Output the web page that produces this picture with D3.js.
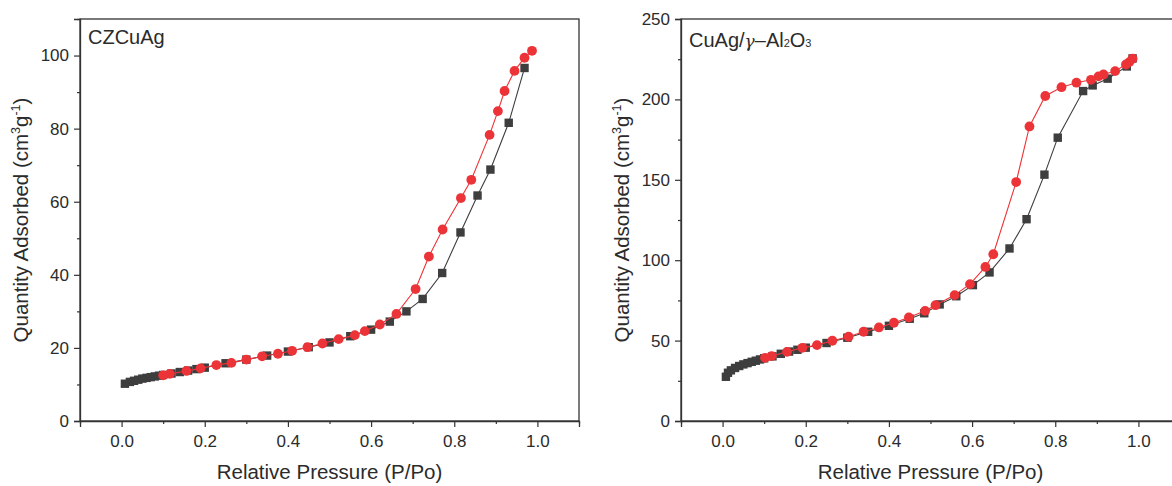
<!DOCTYPE html>
<html>
<head>
<meta charset="utf-8">
<script src="https://cdn.jsdelivr.net/npm/d3@7"></script>
<style>
  html, body { margin: 0; padding: 0; background: #fff; }
  svg { display: block; }
  text { font-family: "Liberation Sans", Arial, sans-serif; fill: #2b2b2b; }
</style>
</head>
<body>
<svg id="chart" width="1172" height="486"></svg>
<script>
// N2 isotherm data: relative pressure (P/Po) and quantity adsorbed (cm3/g)

// CZCuAg – adsorption branch
const czAdsP = [0.008, 0.02, 0.03, 0.04, 0.05, 0.06, 0.07, 0.08, 0.09, 0.10, 0.12, 0.14, 0.16, 0.18, 0.20, 0.25, 0.30, 0.35, 0.40, 0.45, 0.50, 0.55, 0.60, 0.645, 0.685, 0.724, 0.771, 0.815, 0.856, 0.887, 0.931, 0.969];
const czAdsQ = [10.2, 10.7, 11.0, 11.3, 11.6, 11.8, 12.0, 12.2, 12.4, 12.6, 13.0, 13.4, 13.8, 14.2, 14.6, 15.8, 16.8, 17.9, 19.0, 20.2, 21.5, 23.2, 25.0, 27.2, 30.0, 33.4, 40.5, 51.6, 61.7, 68.8, 81.6, 96.6];
// CZCuAg – desorption branch
const czDesP = [0.987, 0.969, 0.945, 0.921, 0.905, 0.885, 0.841, 0.816, 0.772, 0.739, 0.707, 0.661, 0.621, 0.585, 0.561, 0.522, 0.483, 0.447, 0.410, 0.376, 0.338, 0.300, 0.264, 0.228, 0.190, 0.156, 0.116, 0.100];
const czDesQ = [101.3, 99.4, 95.8, 90.3, 84.8, 78.3, 66.0, 61.0, 52.4, 45.0, 36.1, 29.3, 26.4, 24.6, 23.5, 22.4, 21.2, 20.2, 19.2, 18.4, 17.7, 16.8, 15.9, 15.3, 14.4, 13.7, 12.9, 12.5];

// CuAg/γ-Al2O3 – adsorption branch
const alAdsP = [0.008, 0.013, 0.02, 0.03, 0.04, 0.05, 0.06, 0.07, 0.08, 0.09, 0.10, 0.12, 0.14, 0.16, 0.18, 0.20, 0.25, 0.30, 0.35, 0.40, 0.45, 0.485, 0.522, 0.562, 0.602, 0.642, 0.690, 0.731, 0.774, 0.806, 0.867, 0.890, 0.926, 0.972, 0.986];
const alAdsQ = [27.5, 30.0, 31.5, 33.0, 34.2, 35.2, 36.0, 36.8, 37.5, 38.3, 39.0, 40.2, 41.8, 43.2, 44.3, 45.6, 48.5, 51.8, 55.5, 59.2, 63.6, 67.0, 72.5, 77.6, 84.5, 92.4, 107.3, 125.5, 153.2, 176.2, 205.2, 208.7, 212.9, 220.5, 225.5];
// CuAg/γ-Al2O3 – desorption branch
const alDesP = [0.986, 0.978, 0.970, 0.944, 0.916, 0.904, 0.886, 0.851, 0.815, 0.776, 0.738, 0.706, 0.651, 0.632, 0.595, 0.558, 0.512, 0.487, 0.448, 0.412, 0.376, 0.339, 0.303, 0.264, 0.227, 0.192, 0.155, 0.118, 0.102];
const alDesQ = [225.3, 223.2, 221.7, 217.6, 215.5, 214.3, 212.2, 210.4, 207.6, 202.1, 183.2, 148.6, 103.7, 95.8, 85.1, 78.3, 72.0, 68.5, 64.4, 61.1, 58.2, 55.5, 52.4, 49.9, 47.2, 45.5, 43.0, 40.4, 39.3];

// Axis ticks
const xTicks = [0.0, 0.2, 0.4, 0.6, 0.8, 1.0];
const xMinorTicks = [-0.1, 0.1, 0.3, 0.5, 0.7, 0.9, 1.1];
const czYTicks = [0, 20, 40, 60, 80, 100];
const czYMinorTicks = [10, 30, 50, 70, 90, 110];
const alYTicks = [0, 50, 100, 150, 200, 250];
const alYMinorTicks = [25, 75, 125, 175, 225];

const svg = d3.select("#chart");
const AXIS_COLOR = "#333";
const BLACK = "#3e3e3e";
const RED = "#ec3338";

function drawPanel(opt) {
  const g = svg.append("g");
  const x = d3.scaleLinear().domain([-0.1, 1.1]).range([opt.left, opt.left + 499]);
  const y = d3.scaleLinear().domain(opt.yDomain).range([421, 19]);

  // frame (top and right sides)
  g.append("rect")
    .attr("x", x(-0.1)).attr("y", y(opt.yDomain[1]))
    .attr("width", x(1.1) - x(-0.1)).attr("height", y(opt.yDomain[0]) - y(opt.yDomain[1]))
    .attr("fill", "none").attr("stroke", AXIS_COLOR).attr("stroke-width", 1.3);

  // x axis
  const xAxis = g.append("g").attr("transform", `translate(0,${y(opt.yDomain[0])})`)
    .call(d3.axisBottom(x).tickValues(xTicks).tickFormat(d3.format(".1f")).tickSize(6).tickPadding(8));
  g.append("g").attr("transform", `translate(0,${y(opt.yDomain[0])})`)
    .call(d3.axisBottom(x).tickValues(xMinorTicks).tickFormat("").tickSize(3))
    .call(a => a.select(".domain").remove());

  // y axis
  const yAxis = g.append("g").attr("transform", `translate(${x(-0.1)},0)`)
    .call(d3.axisLeft(y).tickValues(opt.yTicks).tickFormat(d3.format("d")).tickSize(6).tickPadding(5));
  g.append("g").attr("transform", `translate(${x(-0.1)},0)`)
    .call(d3.axisLeft(y).tickValues(opt.yMinor).tickFormat("").tickSize(3))
    .call(a => a.select(".domain").remove());

  g.selectAll(".domain").attr("stroke", AXIS_COLOR).attr("stroke-width", 1.3);
  g.selectAll(".tick line").attr("stroke", AXIS_COLOR).attr("stroke-width", 1.2);
  g.selectAll(".tick text").attr("font-size", 17).attr("fill", "#2b2b2b")
    .attr("font-family", '"Liberation Sans", Arial, sans-serif');

  // axis titles
  g.append("text")
    .attr("x", (x(-0.1) + x(1.1)) / 2).attr("y", 479)
    .attr("text-anchor", "middle").attr("font-size", 20.5)
    .text("Relative Pressure (P/Po)");

  const yt = g.append("text")
    .attr("transform", `translate(${x(-0.1) - 52},${(y(opt.yDomain[0]) + y(opt.yDomain[1])) / 2}) rotate(-90)`)
    .attr("text-anchor", "middle").attr("font-size", 20.5);
  yt.append("tspan").text("Quantity Adsorbed (cm");
  yt.append("tspan").attr("font-size", 12.5).attr("dy", -8).text("3");
  yt.append("tspan").attr("dy", 8).text("g");
  yt.append("tspan").attr("font-size", 12.5).attr("dy", -8).text("-1");
  yt.append("tspan").attr("dy", 8).text(")");

  // panel label
  opt.title(g.append("text").attr("x", x(-0.1) + 8).attr("y", opt.titleY).attr("font-size", 20));

  const line = d3.line().x(d => x(d[0])).y(d => y(d[1]));
  const ads = opt.adsP.map((p, i) => [p, opt.adsQ[i]]);
  const des = opt.desP.map((p, i) => [p, opt.desQ[i]]);

  // adsorption: dark squares
  g.append("path").datum(ads).attr("d", line)
    .attr("fill", "none").attr("stroke", BLACK).attr("stroke-width", 1.1);
  g.selectAll(".ads").data(ads).enter().append("rect")
    .attr("x", d => x(d[0]) - 4.2).attr("y", d => y(d[1]) - 4.2)
    .attr("width", 8.4).attr("height", 8.4).attr("fill", BLACK);

  // desorption: red circles
  g.append("path").datum(des).attr("d", line)
    .attr("fill", "none").attr("stroke", RED).attr("stroke-width", 1.1);
  g.selectAll(".des").data(des).enter().append("circle")
    .attr("cx", d => x(d[0])).attr("cy", d => y(d[1]))
    .attr("r", 4.9).attr("fill", RED);
}

drawPanel({
  left: 80, yDomain: [0, 110], yTicks: czYTicks, yMinor: czYMinorTicks,
  adsP: czAdsP, adsQ: czAdsQ, desP: czDesP, desQ: czDesQ, titleY: 44,
  title: t => t.text("CZCuAg")
});

drawPanel({
  left: 681, yDomain: [0, 250], yTicks: alYTicks, yMinor: alYMinorTicks,
  adsP: alAdsP, adsQ: alAdsQ, desP: alDesP, desQ: alDesQ, titleY: 47,
  title: t => {
    t.append("tspan").text("CuAg/");
    t.append("tspan").attr("font-family", '"DejaVu Serif", serif').attr("font-style", "italic")
      .attr("font-size", 17).text("γ");
    t.append("tspan").text("–Al");
    t.append("tspan").attr("font-size", 11).text("2");
    t.append("tspan").text("O");
    t.append("tspan").attr("font-size", 11).text("3");
  }
});
</script>
</body>
</html>
